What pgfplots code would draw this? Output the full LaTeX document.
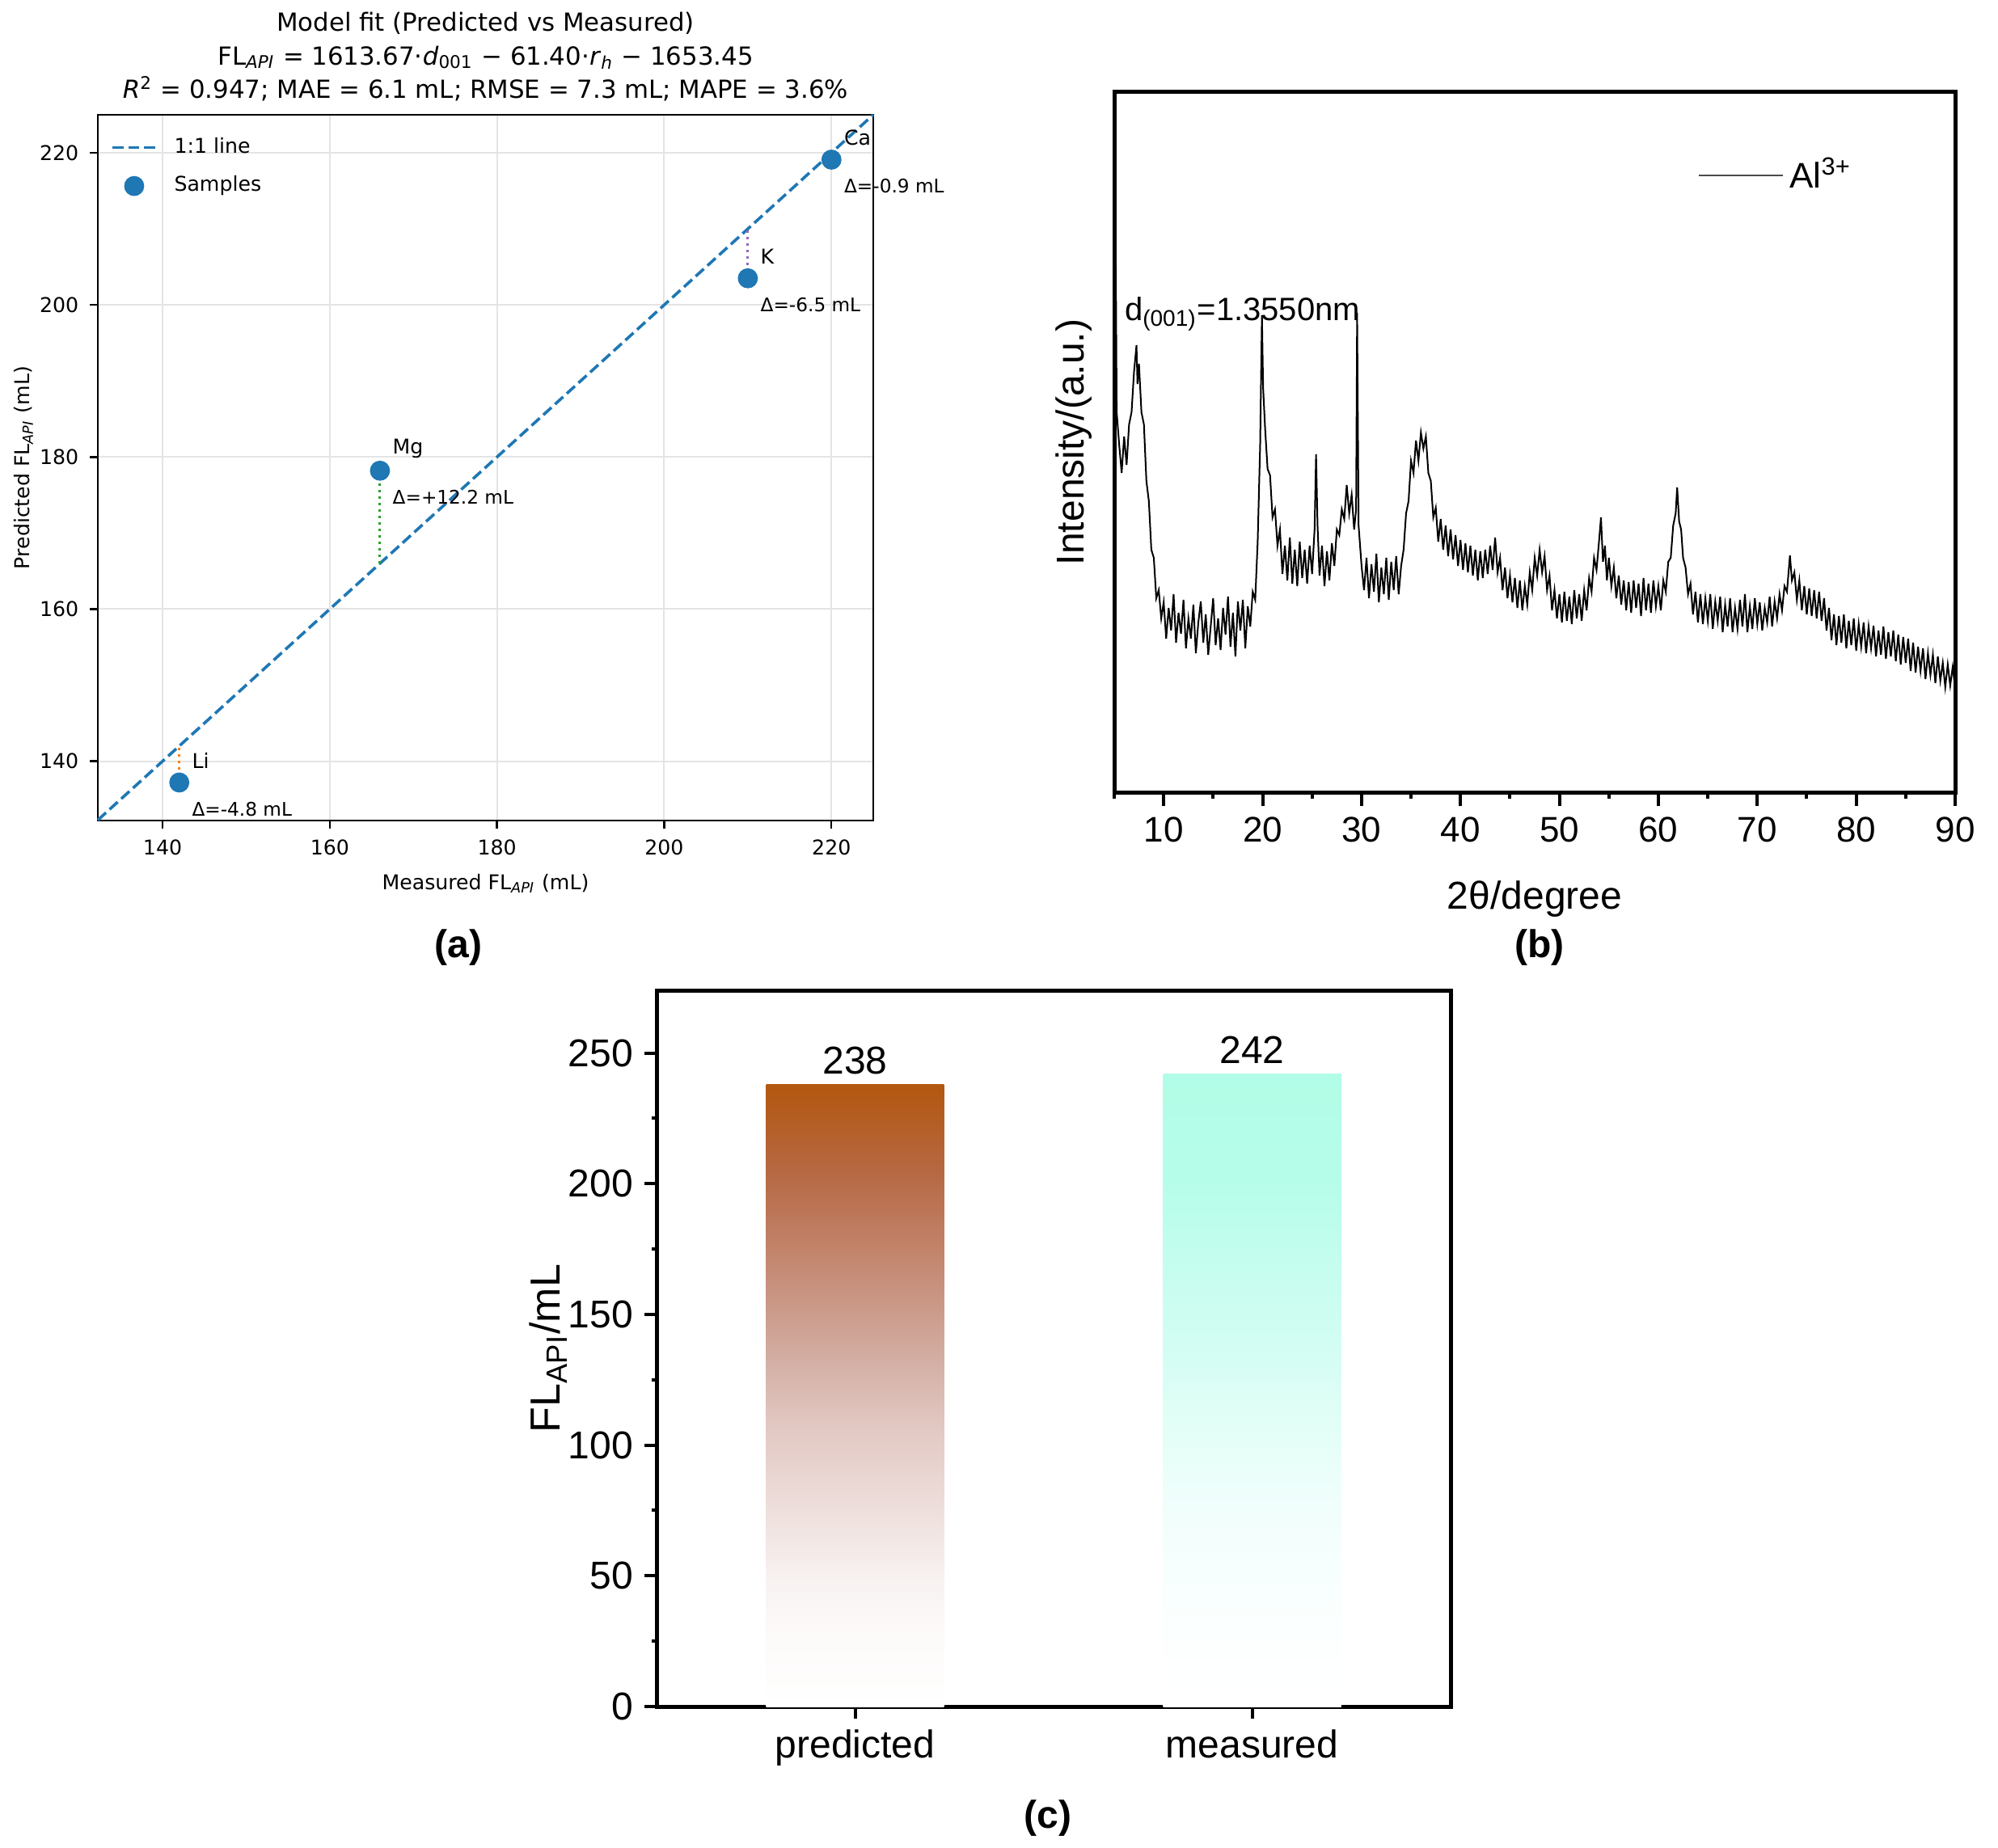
\documentclass[border=0pt]{standalone}
\usepackage{fontspec}
\setmainfont{Liberation Sans}
\newfontfamily\dvs{DejaVu Sans}
\usepackage{pgfplots}
\pgfplotsset{compat=1.18}
\pgfplotsset{/pgf/number format/assume math mode=true}
\definecolor{tabblue}{HTML}{1F77B4}
\definecolor{taborange}{HTML}{FF7F0E}
\definecolor{tabgreen}{HTML}{2CA02C}
\definecolor{tabred}{HTML}{D62728}
\definecolor{tabpurple}{HTML}{9467BD}
\definecolor{gridc}{HTML}{E4E4E4}
\definecolor{pc1}{RGB}{253,251,250}
\definecolor{pc2}{RGB}{248,243,242}
\definecolor{pc3}{RGB}{238,222,219}
\definecolor{pc4}{RGB}{226,200,194}
\definecolor{pc5}{RGB}{212,176,166}
\definecolor{pc6}{RGB}{196,137,115}
\definecolor{pc7}{RGB}{182,104,66}
\definecolor{pc8}{RGB}{179,87,16}
\definecolor{mc1}{RGB}{253,255,255}
\definecolor{mc2}{RGB}{248,255,254}
\definecolor{mc3}{RGB}{240,254,252}
\definecolor{mc4}{RGB}{226,254,247}
\definecolor{mc5}{RGB}{213,253,243}
\definecolor{mc6}{RGB}{198,253,238}
\definecolor{mc7}{RGB}{182,253,233}
\definecolor{mc8}{RGB}{178,253,231}
\pgfdeclareverticalshading{predshade}{100bp}{color(0bp)=(white); color(25bp)=(white); color(30bp)=(pc1); color(35bp)=(pc2); color(41bp)=(pc3); color(47.5bp)=(pc4); color(52.5bp)=(pc5); color(60.5bp)=(pc6); color(68bp)=(pc7); color(75bp)=(pc8); color(100bp)=(pc8)}
\pgfdeclareverticalshading{measshade}{100bp}{color(0bp)=(white); color(25bp)=(white); color(30bp)=(mc1); color(34.5bp)=(mc2); color(41bp)=(mc3); color(47.5bp)=(mc4); color(52.5bp)=(mc5); color(59.5bp)=(mc6); color(66.5bp)=(mc7); color(75bp)=(mc8); color(100bp)=(mc8)}
\newcommand{\fa}{\dvs\fontsize{6.3}{7.6}\selectfont}
\newcommand{\fann}{\dvs\fontsize{5.8}{7}\selectfont}
\pgfplotsset{
  shortline legend/.style={legend image code/.code={\draw[##1] (0pt,0pt) -- (13.5pt,0pt);}},
  shortmark legend/.style={legend image code/.code={\draw[mark repeat=2, mark phase=2, ##1] plot coordinates {(0pt,0pt) (6.75pt,0pt) (13.5pt,0pt)};}},
  xrd legend/.style={legend image code/.code={\draw[black!70, line width=0.5pt] (0pt,0pt) -- (26pt,0pt);}},
}

\pgfplotstableread{
x y
5.00 600
5.15 673
5.25 470
5.50 430
5.75 395
6.00 440
6.25 405
6.50 455
6.75 470
7.00 520
7.25 553
7.35 505
7.50 530
7.75 470
8.00 455
8.25 385
8.50 360
8.75 300
9.00 290
9.25 240
9.50 250
9.75 215
10.00 235
10.25 190
10.50 228
10.75 200
11.00 245
11.25 185
11.50 222
11.75 196
12.00 238
12.25 178
12.50 215
12.75 190
13.00 232
13.25 172
13.50 210
13.75 236
14.00 185
14.25 220
14.50 170
14.75 205
15.00 240
15.25 182
15.50 215
15.75 176
16.00 228
16.25 195
16.50 242
16.75 180
17.00 222
17.25 168
17.50 236
17.75 200
18.00 238
18.25 178
18.50 230
18.75 205
19.00 248
19.25 238
19.50 310
19.75 430
19.85 520
19.93 590
20.05 500
20.25 450
20.50 400
20.75 392
21.00 340
21.25 350
21.50 305
21.75 325
22.00 270
22.25 305
22.50 262
22.75 315
23.00 258
23.25 300
23.50 255
23.75 310
24.00 265
24.25 300
24.50 258
24.75 305
25.00 270
25.25 325
25.40 418
25.55 330
25.75 268
26.00 305
26.25 255
26.50 298
26.75 262
27.00 308
27.25 280
27.50 325
27.75 318
28.00 350
28.25 338
28.50 380
28.75 345
29.00 368
29.25 325
29.45 350
29.55 593
29.70 330
30.00 280
30.25 250
30.50 290
30.75 240
31.00 282
31.25 248
31.50 295
31.75 235
32.00 278
32.25 245
32.50 290
32.75 238
33.00 285
33.25 250
33.50 292
33.75 245
34.00 280
34.25 300
34.50 345
34.75 360
35.00 410
35.25 395
35.50 435
35.75 410
36.00 445
36.25 425
36.50 440
36.75 395
37.00 385
37.25 340
37.50 352
37.75 310
38.00 338
38.25 300
38.50 330
38.75 292
39.00 325
39.25 288
39.50 318
39.75 280
40.00 312
40.25 275
40.50 308
40.75 272
41.00 305
41.25 268
41.50 300
41.75 262
42.00 298
42.25 265
42.50 300
42.75 270
43.00 305
43.25 275
43.50 315
43.75 272
44.00 290
44.25 250
44.50 278
44.75 240
45.00 268
45.25 235
45.50 265
45.75 228
46.00 262
46.25 225
46.50 255
46.75 232
47.00 272
47.25 250
47.50 290
47.75 268
48.00 300
48.25 272
48.50 292
48.75 250
49.00 268
49.25 225
49.50 250
49.75 215
50.00 245
50.25 210
50.50 248
50.75 212
51.00 242
51.25 208
51.50 250
51.75 215
52.00 245
52.25 212
52.50 250
52.75 225
53.00 265
53.25 248
53.50 290
53.75 275
54.00 310
54.20 340
54.40 285
54.60 305
54.80 262
55.00 290
55.25 255
55.50 278
55.75 240
56.00 268
56.25 232
56.50 262
56.75 225
57.00 260
57.25 222
57.50 262
57.75 228
58.00 258
58.25 218
58.50 265
58.75 225
59.00 258
59.25 222
59.50 262
59.75 230
60.00 255
60.25 225
60.50 262
60.75 248
61.00 285
61.25 290
61.50 330
61.75 345
61.90 377
62.10 335
62.30 325
62.50 290
62.75 278
63.00 245
63.25 258
63.50 220
63.75 248
64.00 210
64.25 245
64.50 208
64.75 240
65.00 212
65.25 245
65.50 202
65.75 236
66.00 212
66.25 242
66.50 198
66.75 232
67.00 205
67.25 240
67.50 198
67.75 228
68.00 202
68.25 238
68.50 205
68.75 245
69.00 198
69.25 230
69.50 202
69.75 240
70.00 208
70.25 235
70.50 200
70.75 228
71.00 210
71.25 242
71.50 205
71.75 236
72.00 215
72.25 245
72.50 225
72.75 255
73.00 248
73.30 293
73.50 262
73.75 272
74.00 238
74.25 262
74.50 225
74.75 255
75.00 220
75.25 252
75.50 218
75.75 250
76.00 215
76.25 248
76.50 212
76.75 240
77.00 200
77.25 228
77.50 188
77.75 220
78.00 182
78.25 218
78.50 185
78.75 220
79.00 178
79.25 212
79.50 182
79.75 215
80.00 175
80.25 208
80.50 180
80.75 210
81.00 172
81.25 205
81.50 178
81.75 206
82.00 168
82.25 200
82.50 170
82.75 205
83.00 165
83.25 198
83.50 168
83.75 200
84.00 162
84.25 195
84.50 158
84.75 192
85.00 160
85.25 190
85.50 150
85.75 185
86.00 148
86.25 180
86.50 150
86.75 178
87.00 140
87.25 172
87.50 145
87.75 170
88.00 135
88.25 168
88.50 138
88.75 160
89.00 130
89.25 158
89.50 132
89.75 155
90.00 128
}\xrd

\begin{document}
\begin{tikzpicture}
\path[use as bounding box] (0,0) rectangle (617.75pt,571.25pt);

% ---------------- (a) ----------------
\begin{axis}[
  at={(30.25pt,317.5pt)}, anchor=south west,
  width=239.75pt, height=218.25pt, scale only axis,
  xmin=132.26, xmax=225, ymin=132.2, ymax=225,
  xtick={140,160,180,200,220}, ytick={140,160,180,200,220},
  grid=major, major grid style={gridc, line width=0.5pt},
  axis line style={line width=0.6pt},
  tick style={black, line width=0.6pt}, major tick length=2.4pt,
  tick align=outside, tick pos=left,
  tick label style={font=\fa},
  xlabel={Measured FL\textsubscript{\textit{API}} (mL)},
  ylabel={Predicted FL\textsubscript{\textit{API}} (mL)},
  label style={font=\fa},
  xlabel style={at={(axis description cs:0.5,-0.0974)}, anchor=base},
  ylabel style={at={(axis description cs:-0.0959,0.5)}, anchor=center},
  title={Model fit (Predicted vs Measured)\\FL\textsubscript{\textit{API}} = 1613.67·\textit{d}\textsubscript{001} − 61.40·\textit{r}\textsubscript{\textit{h}} − 1653.45\\\textit{R}\textsuperscript{2} = 0.947; MAE = 6.1 mL; RMSE = 7.3 mL; MAPE = 3.6\%},
  title style={at={(axis description cs:0.5,1)}, anchor=south, align=center,
    font=\dvs\fontsize{7.7}{10.4}\selectfont, inner sep=0pt, yshift=-2pt},
  legend style={at={(axis description cs:0.016,0.978)}, anchor=north west,
    draw=none, fill=none, font=\fa, inner sep=0pt, row sep=1.6pt, column sep=3.2pt},
  legend cell align=left,
  clip=false,
]
\addplot[tabblue, line width=0.9pt, dash pattern=on 3.4pt off 1.5pt, shortline legend]
  coordinates {(132.26,132.26) (225,225)};
\addlegendentry{1:1 line}
\addplot[taborange, line width=0.7pt, dash pattern=on 0.8pt off 1.2pt, forget plot]
  coordinates {(142,137.2) (142,142)};
\addplot[tabgreen, line width=0.7pt, dash pattern=on 0.8pt off 1.2pt, forget plot]
  coordinates {(166,178.2) (166,166)};
\addplot[tabred, line width=0.7pt, dash pattern=on 0.8pt off 1.2pt, forget plot]
  coordinates {(220,219.1) (220,220)};
\addplot[tabpurple, line width=0.7pt, dash pattern=on 0.8pt off 1.2pt, forget plot]
  coordinates {(210,203.5) (210,210)};
\addplot[only marks, mark=*, mark size=2.9pt, mark options={draw=tabblue, fill=tabblue}, shortmark legend]
  coordinates {(142,137.2) (166,178.2) (220,219.1) (210,203.5)};
\addlegendentry{Samples}
\node[anchor=west, font=\fa, inner sep=0pt, xshift=3.75pt, yshift=6.75pt] at (axis cs:142,137.2) {Li};
\node[anchor=west, font=\fann, inner sep=0pt, xshift=3.75pt, yshift=-8.25pt] at (axis cs:142,137.2) {Δ=-4.8 mL};
\node[anchor=west, font=\fa, inner sep=0pt, xshift=3.75pt, yshift=6.75pt] at (axis cs:166,178.2) {Mg};
\node[anchor=west, font=\fann, inner sep=0pt, xshift=3.75pt, yshift=-8.25pt] at (axis cs:166,178.2) {Δ=+12.2 mL};
\node[anchor=west, font=\fa, inner sep=0pt, xshift=3.75pt, yshift=6.75pt] at (axis cs:220,219.1) {Ca};
\node[anchor=west, font=\fann, inner sep=0pt, xshift=3.75pt, yshift=-8.25pt] at (axis cs:220,219.1) {Δ=-0.9 mL};
\node[anchor=west, font=\fa, inner sep=0pt, xshift=3.75pt, yshift=6.75pt] at (axis cs:210,203.5) {K};
\node[anchor=west, font=\fann, inner sep=0pt, xshift=3.75pt, yshift=-8.25pt] at (axis cs:210,203.5) {Δ=-6.5 mL};
\end{axis}

% ---------------- (b) ----------------
\begin{axis}[
  at={(344.5pt,326.25pt)}, anchor=south west,
  width=260pt, height=216.5pt, scale only axis,
  xmin=5, xmax=90, ymin=0, ymax=866,
  xtick={10,20,...,90}, minor xtick={5,15,...,85}, ytick=\empty,
  axis line style={line width=1.25pt},
  tick style={black, line width=1pt},
  major tick length=4.25pt, minor tick length=2pt,
  tick align=outside, xtick pos=bottom,
  tick label style={font=\fontsize{11}{13}\selectfont},
  xlabel={2θ/degree}, ylabel={Intensity/(a.u.)},
  label style={font=\fontsize{12}{14}\selectfont},
  xlabel style={at={(axis description cs:0.5,-0.1674)}, anchor=base},
  ylabel style={at={(axis description cs:-0.048,0.5)}, anchor=center},
  legend style={at={(axis description cs:0.693,0.881)}, anchor=west,
    draw=none, fill=none, inner sep=0pt, font=\fontsize{11}{13}\selectfont},
  legend cell align=left,
]
\addplot[black, line width=0.5pt, xrd legend]
  table[x=x, y=y] {\xrd};
\addlegendentry{Al\textsuperscript{3+}}
\node[anchor=base west, inner sep=0pt, font=\fontsize{10}{12}\selectfont] at (axis cs:6.0,583) {d\textsubscript{(001)}=1.3550nm};
\end{axis}

% ---------------- (c) ----------------
\begin{axis}[
  at={(203pt,43.5pt)}, anchor=south west,
  width=245.5pt, height=221.5pt, scale only axis,
  xmin=-0.5, xmax=1.5, ymin=0, ymax=274,
  xtick={0,1}, xticklabels={predicted,measured},
  ytick={0,50,...,250}, minor ytick={25,75,...,225},
  axis line style={line width=1.25pt},
  tick style={black, line width=1pt},
  major tick length=3.75pt, minor tick length=1.6pt,
  tick align=outside, tick pos=left,
  tick label style={font=\fontsize{12}{14}\selectfont},
  ylabel={FL\textsubscript{API}/mL},
  label style={font=\fontsize{13}{15}\selectfont},
  ylabel style={at={(axis description cs:-0.1365,0.5)}, anchor=center},
]
\addplot[ybar, bar width=0.448, bar shift=0pt, draw=none, shade, shading=predshade,
  nodes near coords,
  every node near coord/.append style={font=\fontsize{12}{14}\selectfont, anchor=south, inner sep=0pt, yshift=3pt, text=black}]
  coordinates {(0,238)};
\addplot[ybar, bar width=0.448, bar shift=0pt, draw=none, shade, shading=measshade,
  nodes near coords,
  every node near coord/.append style={font=\fontsize{12}{14}\selectfont, anchor=south, inner sep=0pt, yshift=3pt, text=black}]
  coordinates {(1,242)};
\end{axis}

\node[font=\bfseries\fontsize{12}{14}\selectfont] at (141.75pt,278.25pt) {(a)};
\node[font=\bfseries\fontsize{12}{14}\selectfont] at (476pt,278.25pt) {(b)};
\node[font=\bfseries\fontsize{12}{14}\selectfont] at (324pt,9pt) {(c)};
\end{tikzpicture}
\end{document}
